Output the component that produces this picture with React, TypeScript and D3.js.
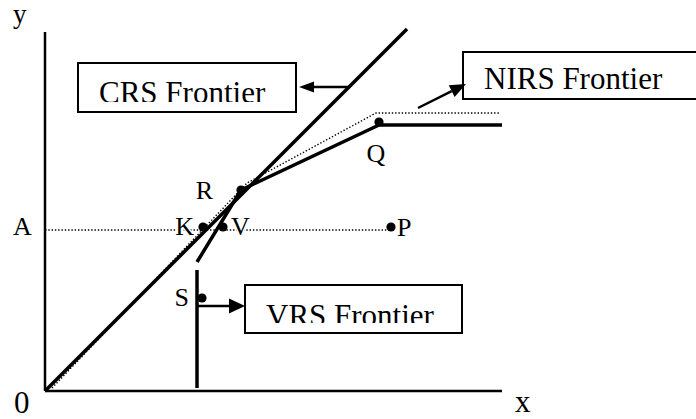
import React from "react";
import * as d3 from "d3";

type Pt = [number, number];

// Data (units measured from the origin of the diagram)
const crsFrontier: Pt[] = [[0, 0], [362, 362]];
const nirsFrontier: Pt[] = [[7, 3], [202, 208], [331, 278], [455, 278]];
const vrsVertical: Pt[] = [[152, 3], [152, 121]];
const vrsUpper: Pt[] = [[152, 129], [196, 201], [334, 266], [457, 266]];
const levelA: Pt[] = [[0, 161], [346, 161]];
const pointNames = ["R", "K", "V", "P", "Q", "S"];
const pointX = [196, 158, 178, 346, 334, 157];
const pointY = [201, 164, 164, 164, 269, 93];
const axisMax: Pt = [457, 359];

// Layout (pixel offsets of the labels from their points)
const labelLayout: Record<string, { dx: number; dy: number; anchor: string }> = {
  R: { dx: -28, dy: 9, anchor: "end" },
  K: { dx: -9, dy: 8, anchor: "end" },
  V: { dx: 8, dy: 8, anchor: "start" },
  P: { dx: 6, dy: 9, anchor: "start" },
  Q: { dx: -3, dy: 40, anchor: "middle" },
  S: { dx: -13, dy: 8, anchor: "end" },
};

const boxes = [
  { id: "crs", text: "CRS Frontier", x: 78, y: 63, w: 218, h: 49, tx: 99, ty: 103, clipB: 102 },
  { id: "nirs", text: "NIRS Frontier", x: 463, y: 52, w: 260, h: 47, tx: 484, ty: 89, clipB: 90 },
  { id: "vrs", text: "VRS Frontier", x: 245, y: 285, w: 217, h: 48, tx: 266, ty: 326, clipB: 323 },
];

const arrows = [
  { x1: 350, y1: 87, x2: 299, y2: 87, len: 15, hw: 5.5 },
  { x1: 418, y1: 108, x2: 466, y2: 84, len: 16, hw: 6.5 },
  { x1: 198, y1: 306, x2: 245, y2: 306, len: 16, hw: 7.5 },
];

const FONT = "'Liberation Serif'";

function arrowHead(a: { x1: number; y1: number; x2: number; y2: number; len: number; hw: number }) {
  const dx = a.x2 - a.x1, dy = a.y2 - a.y1;
  const d = Math.hypot(dx, dy);
  const ux = dx / d, uy = dy / d;
  const bx = a.x2 - ux * a.len, by = a.y2 - uy * a.len;
  const px = -uy, py = ux;
  return {
    base: [bx, by],
    pts: `${a.x2},${a.y2} ${bx + px * a.hw},${by + py * a.hw} ${bx - px * a.hw},${by - py * a.hw}`,
  };
}

export default function App() {
  const x = d3.scaleLinear().domain([0, axisMax[0]]).range([45, 502]);
  const y = d3.scaleLinear().domain([0, axisMax[1]]).range([391, 32]);
  const line = d3.line<Pt>().x((d) => x(d[0])).y((d) => y(d[1]));

  return (
    <svg
      width={696}
      height={419}
      style={{ position: "absolute", left: 0, top: 0, background: "#fff" }}
    >
      <defs>
        {boxes.map((b) => (
          <clipPath id={`clip-${b.id}`} key={b.id}>
            <rect x={b.x} y={b.y} width={b.w} height={b.clipB - b.y} />
          </clipPath>
        ))}
      </defs>

      <path d={line(levelA) || ""} fill="none" stroke="#000" strokeWidth={1.4} strokeDasharray="1.4 1.9" />
      <path d={line(nirsFrontier) || ""} fill="none" stroke="#000" strokeWidth={1.4} strokeDasharray="1.4 1.9" />

      <line x1={x(0)} y1={y(0)} x2={x(axisMax[0])} y2={y(0)} stroke="#000" strokeWidth={2.5} />
      <line x1={x(0)} y1={y(0)} x2={x(0)} y2={y(axisMax[1])} stroke="#000" strokeWidth={2.5} />

      <path d={line(crsFrontier) || ""} fill="none" stroke="#000" strokeWidth={3.5} />
      <path d={line(vrsVertical) || ""} fill="none" stroke="#000" strokeWidth={3.5} />
      <path d={line(vrsUpper) || ""} fill="none" stroke="#000" strokeWidth={3.5} strokeLinejoin="round" />

      {pointNames.map((n, i) => (
        <circle key={n} cx={x(pointX[i])} cy={y(pointY[i])} r={4.6} fill="#000" />
      ))}
      {pointNames.map((n, i) => {
        const l = labelLayout[n];
        return (
          <text
            key={"l" + n}
            x={x(pointX[i]) + l.dx}
            y={y(pointY[i]) + l.dy}
            textAnchor={l.anchor as any}
            style={{ fontFamily: FONT, fontSize: 26 }}
            fill="#000"
            stroke="#fff"
            strokeWidth={3}
            paintOrder="stroke"
          >
            {n}
          </text>
        );
      })}
      <text x={13} y={235} style={{ fontFamily: FONT, fontSize: 26 }} fill="#000" stroke="#fff" strokeWidth={3} paintOrder="stroke">A</text>

      <text x={14} y={413} style={{ fontFamily: FONT, fontSize: 31 }}>0</text>
      <text x={515} y={412} style={{ fontFamily: FONT, fontSize: 31 }}>x</text>
      <text x={13} y={23} style={{ fontFamily: FONT, fontSize: 27 }}>y</text>

      {boxes.map((b) => (
        <g key={b.id}>
          <rect x={b.x} y={b.y} width={b.w} height={b.h} fill="#fff" stroke="#000" strokeWidth={2} />
          <text x={b.tx} y={b.ty} style={{ fontFamily: FONT, fontSize: 31 }} clipPath={`url(#clip-${b.id})`}>
            {b.text}
          </text>
        </g>
      ))}

      {arrows.map((a, i) => {
        const h = arrowHead(a);
        return (
          <g key={i}>
            <line x1={a.x1} y1={a.y1} x2={h.base[0]} y2={h.base[1]} stroke="#000" strokeWidth={2.5} />
            <polygon points={h.pts} fill="#000" />
          </g>
        );
      })}
    </svg>
  );
}
